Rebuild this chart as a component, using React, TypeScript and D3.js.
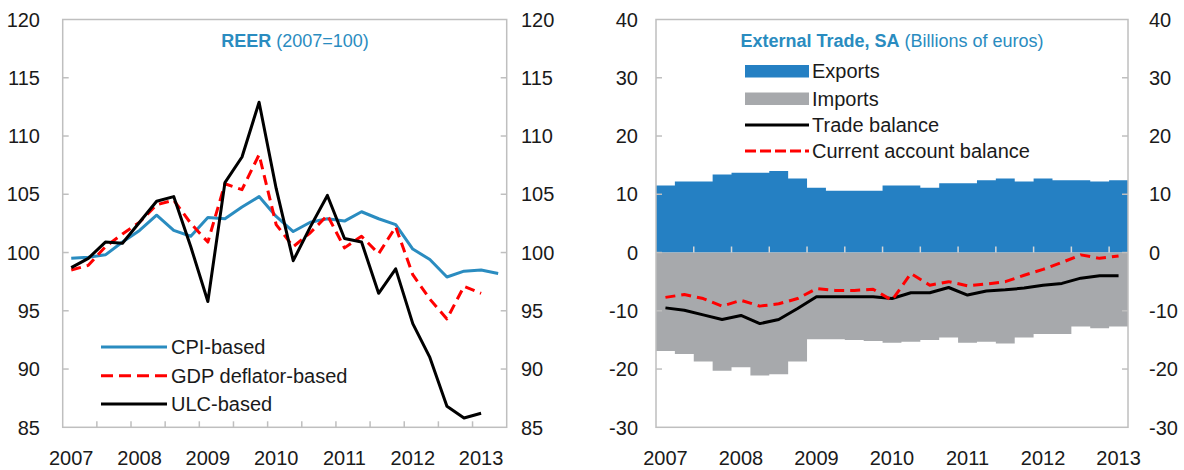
import React from 'react';
import * as d3 from 'd3';

// quarterly categories
const quarters = [
  '2007Q1', '2007Q2', '2007Q3', '2007Q4', '2008Q1', '2008Q2', '2008Q3', '2008Q4',
  '2009Q1', '2009Q2', '2009Q3', '2009Q4', '2010Q1', '2010Q2', '2010Q3', '2010Q4',
  '2011Q1', '2011Q2', '2011Q3', '2011Q4', '2012Q1', '2012Q2', '2012Q3', '2012Q4',
  '2013Q1', '2013Q2',
];
const tradeQuarters = quarters.slice(0, 25);
const yearLabels = ['2007', '2008', '2009', '2010', '2011', '2012', '2013'];

// REER (2007=100)
const cpiBased = [99.5, 99.6, 99.8, 100.9, 101.9, 103.2, 101.9, 101.4, 103.0, 102.9, 103.9, 104.8, 103.1,
  101.8, 102.6, 102.9, 102.7, 103.5, 102.9, 102.4, 100.3, 99.4, 97.9, 98.4, 98.5, 98.2];
const gdpDeflatorBased = [98.5, 98.9, 100.5, 101.6, 102.6, 104.1, 104.5, 102.5, 100.9, 105.9, 105.4, 108.4,
  102.4, 100.5, 101.7, 103.2, 100.4, 101.4, 99.9, 102.2, 98.1, 96.0, 94.3, 97.1, 96.5];
const ulcBased = [98.7, 99.5, 100.9, 100.8, 102.6, 104.4, 104.8, 100.5, 95.8, 106.0, 108.2, 112.9, 105.5,
  99.3, 102.2, 104.9, 101.2, 100.9, 96.5, 98.6, 93.9, 91.0, 86.8, 85.8, 86.2];
const reerTicks = [85, 90, 95, 100, 105, 110, 115, 120];

// External trade, SA (billions of euros)
const exportsSA = [11.5, 12.2, 12.2, 13.4, 13.7, 13.7, 14.0, 12.7, 11.1, 10.6, 10.6, 10.6, 11.5, 11.5,
  11.1, 11.9, 11.9, 12.4, 12.7, 12.2, 12.7, 12.4, 12.4, 12.2, 12.4];
const importsSA = [-16.9, -17.4, -18.7, -20.3, -19.7, -21.1, -20.9, -18.7, -14.9, -14.9, -15.0, -15.2,
  -15.5, -15.3, -15.0, -14.6, -15.5, -15.3, -15.6, -14.6, -14.0, -14.0, -12.7, -13.0, -12.7];
const tradeBalance = [-9.5, -9.9, -10.7, -11.5, -10.8, -12.2, -11.5, -9.6, -7.6, -7.6, -7.6, -7.6, -7.9,
  -6.9, -6.9, -6.0, -7.3, -6.6, -6.4, -6.1, -5.6, -5.3, -4.4, -4.0, -4.0];
const currentAccount = [-7.7, -7.2, -7.9, -9.2, -8.2, -9.2, -8.8, -7.9, -6.2, -6.5, -6.5, -6.3, -8.2,
  -3.6, -5.6, -5.0, -5.7, -5.4, -5.0, -3.9, -2.9, -1.7, -0.4, -1.0, -0.6];
const tradeTicks = [-30, -20, -10, 0, 10, 20, 30, 40];

const FONT = '"Liberation Sans", Arial, sans-serif';
const TEXT = '#1a1a1a';
const FRAME = '#bfbfbf';
const BLUE = '#2a8cc0';
const RED = '#ff0000';
const TOP = 19.5;
const BOTTOM = 427.3;

const Panel = ({ x, xRight, y, cats, ticks, labelLeft, labelRight, axisY }) => {
  // inner ticks + axis labels
  const bw = x.bandwidth();
  const xTicks = cats.filter((c, i) => i > 0 && i % 2 === 0);
  return (
    <g fontFamily={FONT} fontSize={20} fill={TEXT}>
      {ticks.map(t => (
        <g key={t}>
          <text x={labelLeft} y={y(t)} dy="0.36em" textAnchor="end">{t}</text>
          <text x={labelRight} y={y(t)} dy="0.36em">{t}</text>
          {t !== ticks[0] && t !== ticks[ticks.length - 1] && (
            <g stroke={FRAME} strokeWidth={1.5}>
              <line x1={x.range()[0]} x2={x.range()[0] + 6} y1={y(t)} y2={y(t)} />
              <line x1={xRight - 6} x2={xRight} y1={y(t)} y2={y(t)} />
            </g>
          )}
        </g>
      ))}
      {xTicks.map(c => (
        <line key={c} x1={x(c)} x2={x(c)} y1={axisY} y2={axisY - 6}
          stroke={axisY === BOTTOM ? FRAME : '#d6d6d6'} strokeWidth={1.5} />
      ))}
      {yearLabels.map(yr => (
        <text key={yr} x={x(yr + 'Q1') + bw / 2} y={464.5} textAnchor="middle">{yr}</text>
      ))}
    </g>
  );
};

const App = () => {
  // left panel: REER
  const xL = d3.scaleBand().domain(quarters).range([62.7, 506.7]).padding(0);
  const yL = d3.scaleLinear().domain([85, 120]).range([BOTTOM, TOP]);
  const cx = (i) => xL(quarters[i]) + xL.bandwidth() / 2;
  const lineL = d3.line<number>().x((d, i) => cx(i)).y(d => yL(d));

  // right panel: external trade
  const xR = d3.scaleBand().domain(tradeQuarters).range([656, 1128]).padding(0);
  const yR = d3.scaleLinear().domain([-30, 40]).range([BOTTOM, TOP]);
  const rx = (i) => xR(tradeQuarters[i]) + xR.bandwidth() / 2;
  const lineR = d3.line<number>().x((d, i) => rx(i)).y(d => yR(d));
  // columns with no gap, drawn as one stepped area
  const bar = (vals) => d3.area<number>()
    .curve(d3.curveStepAfter)
    .x((d, i) => xR(tradeQuarters[Math.min(i, tradeQuarters.length - 1)]) + (i === vals.length ? xR.bandwidth() : 0))
    .y0(yR(0))
    .y1(d => yR(d));
  const stepVals = (vals) => [...vals, vals[vals.length - 1]];

  return (
    <div style={{ position: 'absolute', left: 0, top: 0 }}>
      <svg width={1184} height={470} style={{ display: 'block', background: '#fff' }}>
        {/* REER panel */}
        <rect x={62.7} y={TOP} width={444} height={BOTTOM - TOP} fill="none" stroke={FRAME} strokeWidth={1.5} />
        <Panel x={xL} xRight={506.7} y={yL} cats={quarters} ticks={reerTicks}
          labelLeft={40} labelRight={521} axisY={BOTTOM} />
        <g fill="none" strokeWidth={3} strokeLinejoin="round">
          <path d={lineL(cpiBased)} stroke={BLUE} />
          <path d={lineL(gdpDeflatorBased)} stroke={RED} strokeDasharray="10 6" />
          <path d={lineL(ulcBased)} stroke="#000" />
        </g>
        <text x={295} y={47} textAnchor="middle" fontFamily={FONT} fontSize={18} fill={BLUE}>
          <tspan fontWeight="bold">REER</tspan> (2007=100)
        </text>
        <g fontFamily={FONT} fontSize={20} fill={TEXT}>
          {[
            ['CPI-based', BLUE, null, 347],
            ['GDP deflator-based', RED, '12 6', 375.7],
            ['ULC-based', '#000', null, 404],
          ].map(([name, col, dash, ly]) => (
            <g key={name}>
              <line x1={101} x2={167} y1={ly} y2={ly} stroke={col} strokeWidth={3}
                strokeDasharray={dash || undefined} />
              <text x={171} y={ly} dy="0.36em">{name}</text>
            </g>
          ))}
        </g>

        {/* External trade panel */}
        <path d={bar(exportsSA)(stepVals(exportsSA))} fill="#2580c3" />
        <path d={bar(importsSA)(stepVals(importsSA))} fill="#a7a9ac" />
        <rect x={656} y={TOP} width={472} height={BOTTOM - TOP} fill="none" stroke={FRAME} strokeWidth={1.5} />
        <Panel x={xR} xRight={1128} y={yR} cats={tradeQuarters} ticks={tradeTicks}
          labelLeft={638} labelRight={1149} axisY={yR(0)} />
        <g fill="none" strokeWidth={3} strokeLinejoin="round">
          <path d={lineR(tradeBalance)} stroke="#000" />
          <path d={lineR(currentAccount)} stroke={RED} strokeDasharray="10 6" />
        </g>
        <text x={892} y={47} textAnchor="middle" fontFamily={FONT} fontSize={18} fill={BLUE}>
          <tspan fontWeight="bold">External Trade, SA</tspan> (Billions of euros)
        </text>
        <g fontFamily={FONT} fontSize={20} fill={TEXT}>
          <rect x={745} y={65} width={64} height={12.5} fill="#2580c3" />
          <text x={812} y={71} dy="0.36em">Exports</text>
          <rect x={745} y={92.5} width={64} height={12.5} fill="#a7a9ac" />
          <text x={812} y={99} dy="0.36em">Imports</text>
          <line x1={745} x2={809} y1={125} y2={125} stroke="#000" strokeWidth={3} />
          <text x={812} y={125} dy="0.36em">Trade balance</text>
          <line x1={745} x2={809} y1={151} y2={151} stroke={RED} strokeWidth={3} strokeDasharray="11 4" />
          <text x={812} y={151} dy="0.36em">Current account balance</text>
        </g>
      </svg>
    </div>
  );
};

export default App;
